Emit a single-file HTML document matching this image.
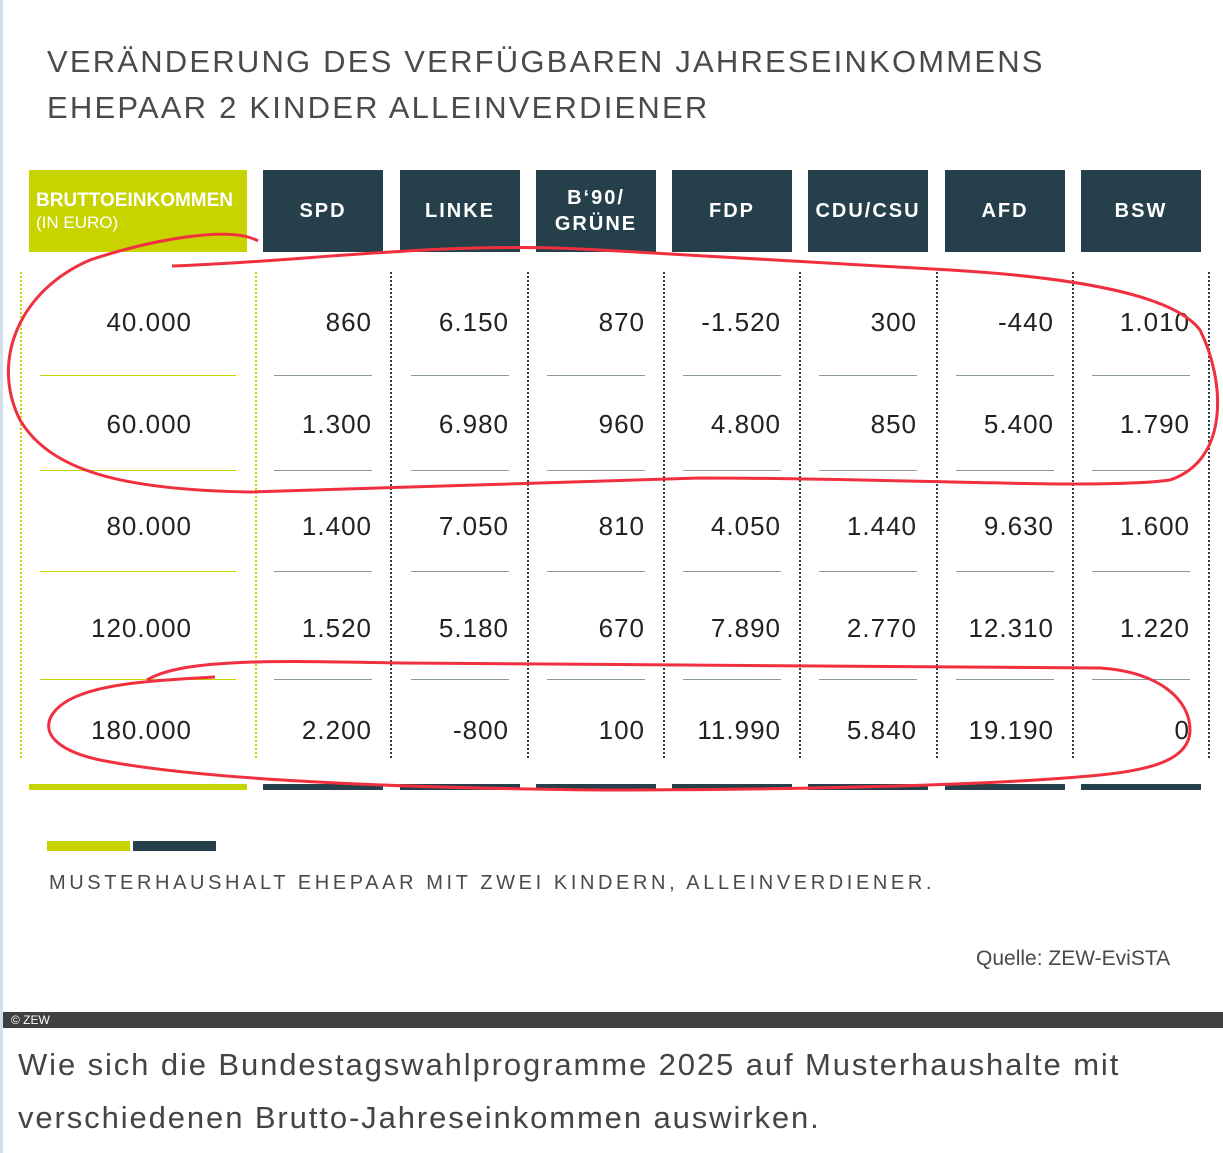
<!DOCTYPE html>
<html><head><meta charset="utf-8"><style>
body{margin:0;width:1223px;height:1153px;overflow:hidden;background:#fff;font-family:"Liberation Sans",sans-serif;position:relative}
.a{position:absolute}
.t{color:#4a4a4a;letter-spacing:2.2px;font-size:31px;left:47px}
.h{position:absolute;top:170px;height:82px;background:#25404a;color:#fff;font-size:20px;font-weight:bold;letter-spacing:2px;display:flex;align-items:center;justify-content:center;text-align:center;line-height:26px}
.v{position:absolute;font-size:26px;color:#222;letter-spacing:1px;text-align:right;width:110px}
.s{position:absolute;height:1px;background:#8a9a9e}
.d{position:absolute;top:272px;height:486px;border-left:2px dotted #25404a}
.b{position:absolute;top:784px;height:6px;background:#25404a}
</style></head><body>
<div class="a" style="left:0;top:0;width:3px;height:1153px;background:#d3e1ea"></div>
<div class="a t" style="top:44px">VERÄNDERUNG DES VERFÜGBAREN JAHRESEINKOMMENS</div>
<div class="a t" style="top:90px">EHEPAAR 2 KINDER ALLEINVERDIENER</div>
<div class="a" style="left:29px;top:170px;width:218px;height:82px;background:#c8d400;color:#fff;box-sizing:border-box;padding:20px 0 0 7px;font-size:19px;line-height:22px;font-weight:bold;letter-spacing:0;white-space:nowrap">BRUTTOEINKOMMEN<br><span style="font-size:17px;font-weight:normal">(IN EURO)</span></div>
<div class="h" style="left:263px;width:120px">SPD</div>
<div class="h" style="left:400px;width:120px">LINKE</div>
<div class="h" style="left:536px;width:120px">B‘90/<br>GRÜNE</div>
<div class="h" style="left:672px;width:120px">FDP</div>
<div class="h" style="left:808px;width:120px">CDU/CSU</div>
<div class="h" style="left:945px;width:120px">AFD</div>
<div class="h" style="left:1081px;width:120px">BSW</div>
<div class="d" style="left:20px;border-color:#c8d400"></div>
<div class="d" style="left:255px;border-color:#c8d400"></div>
<div class="d" style="left:390px"></div><div class="d" style="left:527px"></div><div class="d" style="left:663px"></div><div class="d" style="left:799px"></div><div class="d" style="left:936px"></div><div class="d" style="left:1072px"></div><div class="d" style="left:1208px"></div>
<div id="g"></div>
<div class="b" style="left:29px;width:218px;background:#c8d400"></div>
<div class="b" style="left:263px;width:120px"></div><div class="b" style="left:400px;width:120px"></div><div class="b" style="left:536px;width:120px"></div><div class="b" style="left:672px;width:120px"></div><div class="b" style="left:808px;width:120px"></div><div class="b" style="left:945px;width:120px"></div><div class="b" style="left:1081px;width:120px"></div>
<div class="a" style="left:47px;top:841px;width:83px;height:10px;background:#c8d400"></div>
<div class="a" style="left:133px;top:841px;width:83px;height:10px;background:#25404a"></div>
<div class="a" style="left:49px;top:872px;font-size:20px;letter-spacing:3.6px;color:#4a4a4a">MUSTERHAUSHALT EHEPAAR MIT ZWEI KINDERN, ALLEINVERDIENER.</div>
<div class="a" style="left:976px;top:947px;font-size:21px;color:#4a4a4a">Quelle: ZEW-EviSTA</div>
<div class="a" style="left:3px;top:1012px;width:1220px;height:16px;background:#404040;color:#fff;font-size:12px;line-height:16px;padding-left:8px">© ZEW</div>
<div class="a" style="left:18px;top:1038px;font-size:31px;line-height:53px;color:#444;letter-spacing:1.9px;white-space:nowrap">Wie sich die Bundestagswahlprogramme 2025 auf Musterhaushalte mit<br>verschiedenen Brutto-Jahreseinkommen auswirken.</div>
<svg class="a" style="left:0;top:0" width="1223" height="1153" fill="none" stroke="#f0303e" stroke-width="3">
<path d="M258 241 C230 225 150 240 90 260 C20 290 -10 360 20 420 C50 470 120 490 250 492 L700 478 C900 478 1100 490 1170 480 C1230 460 1225 380 1200 330 C1170 290 1050 276 950 270 L600 250 C450 240 300 262 172 266"/>
<path d="M147 680 C180 660 260 660 400 663 L1100 668 C1160 672 1190 700 1190 730 C1190 760 1150 770 1100 775 C1000 785 800 790 600 790 C400 788 200 780 100 760 C30 745 40 710 80 695 C110 683 160 680 215 677"/>
</svg>
<script>
var rows=[["40.000","860","6.150","870","-1.520","300","-440","1.010"],["60.000","1.300","6.980","960","4.800","850","5.400","1.790"],["80.000","1.400","7.050","810","4.050","1.440","9.630","1.600"],["120.000","1.520","5.180","670","7.890","2.770","12.310","1.220"],["180.000","2.200","-800","100","11.990","5.840","19.190","0"]];
var ys=[323,425,527,629,731],seps=[375,470,571,679],xs=[263,400,536,672,808,945,1081],h="";
rows.forEach(function(r,i){h+='<div class="v" style="left:40px;top:'+(ys[i]-16)+'px;width:152px">'+r[0]+'</div>';
for(var j=1;j<8;j++)h+='<div class="v" style="left:'+(xs[j-1]-1)+'px;top:'+(ys[i]-16)+'px">'+r[j]+'</div>';});
seps.forEach(function(y){h+='<div class="s" style="left:40px;width:196px;top:'+y+'px;background:#c8d400"></div>';xs.forEach(function(x){h+='<div class="s" style="left:'+(x+11)+'px;width:98px;top:'+y+'px"></div>';});});
document.getElementById('g').innerHTML=h;
</script>
</body></html>
